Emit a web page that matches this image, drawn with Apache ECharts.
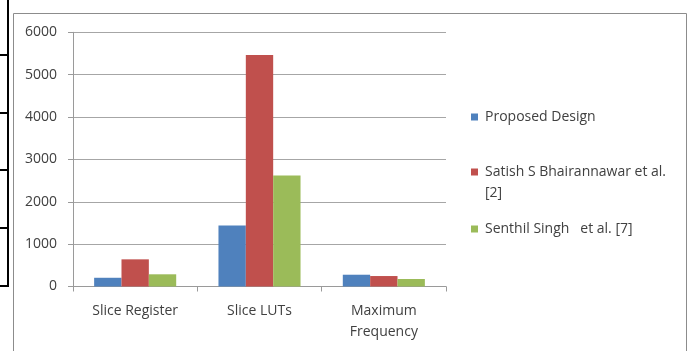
<!DOCTYPE html>
<html><head><meta charset="utf-8">
<script src="https://cdn.jsdelivr.net/npm/echarts@6/dist/echarts.min.js"></script>
<style>html,body{margin:0;padding:0;background:#fff}#c{width:691px;height:351px}</style>
</head><body><div id="c"></div>
<script>
const categories = ['Slice Register', 'Slice LUTs', 'Maximum\nFrequency'];
const seriesNames = ['Proposed Design', 'Satish S Bhairannawar et al. [2]', 'Senthil Singh   et al. [7]'];
const legendLines = [['Proposed Design'], ['Satish S Bhairannawar et al.', '[2]'], ['Senthil Singh   et al. [7]']];
const proposed = [206, 1440, 278];
const satish = [641, 5464, 247];
const senthil = [288, 2620, 177];
const yTicks = [0, 1000, 2000, 3000, 4000, 5000, 6000];
const colors = ['#4F81BD', '#C0504D', '#9BBB59'];
const FONT = 'Open Sans';
const FS = 14;
const txt = '#404040';

const chart = echarts.init(document.getElementById('c'), null, {renderer: 'canvas'});
const values = [proposed, satish, senthil];
const legendCenters = [117, 172, 229];
chart.setOption({
  animation: false,
  textStyle: {fontFamily: FONT},
  graphic: [
    {type: 'rect', shape: {x: 13.5, y: 13.5, width: 673, height: 345}, style: {fill: 'none', stroke: '#8c8c8c', lineWidth: 1}},
    {type: 'line', shape: {x1: 8, y1: 0, x2: 8, y2: 287}, style: {stroke: '#000', lineWidth: 2}},
    {type: 'line', shape: {x1: 0, y1: 55, x2: 9, y2: 55}, style: {stroke: '#000', lineWidth: 2}},
    {type: 'line', shape: {x1: 0, y1: 113, x2: 9, y2: 113}, style: {stroke: '#000', lineWidth: 2}},
    {type: 'line', shape: {x1: 0, y1: 170, x2: 9, y2: 170}, style: {stroke: '#000', lineWidth: 2}},
    {type: 'line', shape: {x1: 0, y1: 228, x2: 9, y2: 228}, style: {stroke: '#000', lineWidth: 2}},
    {type: 'line', shape: {x1: 0, y1: 286, x2: 9, y2: 286}, style: {stroke: '#000', lineWidth: 2}},
    {type: 'text', left: 485, top: 193 - 10, style: {text: legendLines[1][1], fontFamily: FONT, fontSize: FS, fill: txt, lineHeight: 20}}
  ],
  legend: seriesNames.map((n, i) => ({
    data: [n], orient: 'vertical', left: 466, top: legendCenters[i] - 5 - 10,
    itemWidth: 7, itemHeight: 7, itemGap: 0, icon: 'rect',
    formatter: () => legendLines[i][0],
    textStyle: {fontFamily: FONT, fontSize: FS, color: txt, lineHeight: 20, padding: [0, 0, 0, 2]},
    selectedMode: false
  })),
  grid: {left: 73, top: 32.3, right: 245, bottom: 64.5, containLabel: false},
  xAxis: {
    type: 'category', data: categories,
    axisLine: {lineStyle: {color: '#9a9a9a'}},
    axisTick: {show: true, length: 5, lineStyle: {color: '#9a9a9a'}},
    axisLabel: {color: txt, fontSize: FS, fontFamily: FONT, margin: 14, lineHeight: 21, interval: 0}
  },
  yAxis: {
    type: 'value', min: 0, max: 6000, interval: 1000,
    axisLine: {show: true, lineStyle: {color: '#9a9a9a'}},
    axisTick: {show: true, length: 5, lineStyle: {color: '#9a9a9a'}},
    splitLine: {lineStyle: {color: '#a6a6a6'}},
    axisLabel: {color: txt, fontSize: FS, fontFamily: FONT, margin: 16,
      formatter: v => yTicks.includes(v) ? String(v) : ''}
  },
  series: seriesNames.map((n, i) => ({
    name: n, type: 'bar', data: values[i], barGap: '0%', barCategoryGap: '34%',
    itemStyle: {color: colors[i]}
  }))
});
</script></body></html>
